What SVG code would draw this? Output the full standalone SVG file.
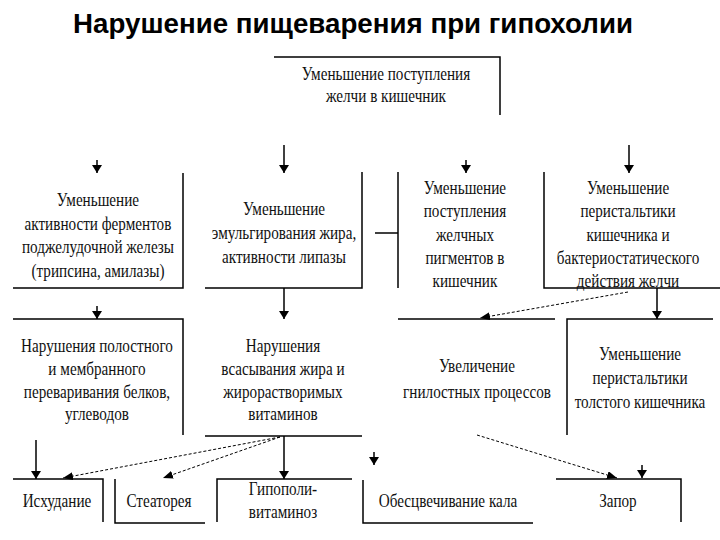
<svg xmlns="http://www.w3.org/2000/svg" width="720" height="540" viewBox="0 0 720 540">
<defs>
<marker id="ah" markerWidth="8" markerHeight="12" refX="8" refY="6" orient="auto" markerUnits="userSpaceOnUse" viewBox="0 0 8 12">
<path d="M0,1 L8,6 L0,11 z" fill="#000"/>
</marker>
<marker id="ahs" markerWidth="10" markerHeight="8" refX="10" refY="4" orient="auto" markerUnits="userSpaceOnUse" viewBox="0 0 10 8">
<path d="M0,0 L10,4 L0,8 z" fill="#000"/>
</marker>
</defs>
<style>
.b{fill:none;stroke:#000;stroke-width:1.5}
.c{fill:none;stroke:#000;stroke-width:1.5;marker-end:url(#ah)}
.d{fill:none;stroke:#000;stroke-width:1;stroke-dasharray:3,2;marker-end:url(#ahs)}
.t{font-family:'Liberation Serif','Times New Roman','DejaVu Serif',serif;font-size:18px;fill:#111;text-anchor:middle}
.h{font-family:'Liberation Sans',Arial,sans-serif;font-size:28px;font-weight:bold;fill:#000}
</style>
<rect width="720" height="540" fill="#fff"/>
<text class="h" x="73" y="33" textLength="560" lengthAdjust="spacingAndGlyphs">Нарушение пищеварения при гипохолии</text>

<g id="connectors">
<line class="c" x1="97" y1="160" x2="97" y2="173"/>
<line class="c" x1="284" y1="145" x2="284" y2="173"/>
<line class="c" x1="466" y1="160" x2="466" y2="173"/>
<line class="c" x1="629" y1="145" x2="629" y2="173"/>
<line class="b" x1="375" y1="233" x2="398" y2="233"/>
<line class="c" x1="97" y1="306" x2="97" y2="319"/>
<line class="c" x1="284" y1="288" x2="284" y2="319"/>
<line class="d" x1="628" y1="292" x2="480" y2="318"/>
<line class="c" x1="657" y1="288" x2="657" y2="319"/>
<line class="c" x1="36" y1="440" x2="36" y2="479"/>
<line class="d" x1="280" y1="437" x2="63" y2="478"/>
<line class="d" x1="280" y1="437" x2="163" y2="478"/>
<line class="c" x1="284" y1="436" x2="284" y2="479"/>
<line class="c" x1="374" y1="452" x2="374" y2="465"/>
<line class="d" x1="477" y1="435" x2="617" y2="478"/>
<line class="c" x1="642" y1="465" x2="642" y2="478"/>
</g>

<g id="n0">
<path class="b" d="M274,57 H500 V115"/>
<text class="t" transform="scale(0.844,1)" x="457.3" y="80">Уменьшение поступления</text>
<text class="t" transform="scale(0.844,1)" x="457.3" y="102">желчи в кишечник</text>
</g>

<g id="n1">
<path class="b" d="M183,173 V288 H13"/>
<text class="t" transform="scale(0.844,1)" x="116.1" y="206">Уменьшение</text>
<text class="t" transform="scale(0.844,1)" x="116.1" y="230">активности ферментов</text>
<text class="t" transform="scale(0.844,1)" x="116.1" y="253">поджелудочной железы</text>
<text class="t" transform="scale(0.844,1)" x="116.1" y="277">(трипсина, амилазы)</text>
</g>

<g id="n2">
<path class="b" d="M362,172 V288 H205"/>
<text class="t" transform="scale(0.844,1)" x="336.5" y="215">Уменьшение</text>
<text class="t" transform="scale(0.844,1)" x="336.5" y="239">эмульгирования жира,</text>
<text class="t" transform="scale(0.844,1)" x="336.5" y="263">активности липазы</text>
</g>

<g id="n3">
<path class="b" d="M398,172 V288"/>
<text class="t" transform="scale(0.844,1)" x="550.9" y="194">Уменьшение</text>
<text class="t" transform="scale(0.844,1)" x="550.9" y="217">поступления</text>
<text class="t" transform="scale(0.844,1)" x="550.9" y="241">желчных</text>
<text class="t" transform="scale(0.844,1)" x="550.9" y="264">пигментов в</text>
<text class="t" transform="scale(0.844,1)" x="550.9" y="287">кишечник</text>
</g>

<g id="n4">
<path class="b" d="M544,172 V288 H720"/>
<text class="t" transform="scale(0.844,1)" x="744.1" y="194">Уменьшение</text>
<text class="t" transform="scale(0.844,1)" x="744.1" y="217">перистальтики</text>
<text class="t" transform="scale(0.844,1)" x="744.1" y="241">кишечника и</text>
<text class="t" transform="scale(0.844,1)" x="744.1" y="264">бактериостатического</text>
<text class="t" transform="scale(0.844,1)" x="744.1" y="287">действия желчи</text>
</g>

<g id="n5">
<path class="b" d="M13,319 H183 V435"/>
<text class="t" transform="scale(0.844,1)" x="114.9" y="352">Нарушения полостного</text>
<text class="t" transform="scale(0.844,1)" x="114.9" y="375">и мембранного</text>
<text class="t" transform="scale(0.844,1)" x="114.9" y="398">переваривания белков,</text>
<text class="t" transform="scale(0.844,1)" x="114.9" y="420">углеводов</text>
</g>

<g id="n6">
<path class="b" d="M205,436 H362"/>
<text class="t" transform="scale(0.844,1)" x="335.3" y="352">Нарушения</text>
<text class="t" transform="scale(0.844,1)" x="335.3" y="375">всасывания  жира и</text>
<text class="t" transform="scale(0.844,1)" x="335.3" y="398">жирорастворимых</text>
<text class="t" transform="scale(0.844,1)" x="335.3" y="420">витаминов</text>
</g>

<g id="n7">
<path class="b" d="M398,319 H555"/>
<text class="t" transform="scale(0.844,1)" x="565.2" y="372">Увеличение</text>
<text class="t" transform="scale(0.844,1)" x="565.2" y="398">гнилостных процессов</text>
</g>

<g id="n8">
<path class="b" d="M567,435 V319 H713"/>
<text class="t" transform="scale(0.844,1)" x="758.3" y="360">Уменьшение</text>
<text class="t" transform="scale(0.844,1)" x="758.3" y="384">перистальтики</text>
<text class="t" transform="scale(0.844,1)" x="758.3" y="408">толстого кишечника</text>
</g>

<g id="n9">
<path class="b" d="M13,479 H103 V522"/>
<text class="t" transform="scale(0.844,1)" x="67.5" y="507">Исхудание</text>
</g>

<g id="n10">
<path class="b" d="M115,479 V523 H205"/>
<text class="t" transform="scale(0.844,1)" x="188.4" y="507">Стеаторея</text>
</g>

<g id="n11">
<path class="b" d="M352,479 H217 V522"/>
<text class="t" transform="scale(0.844,1)" x="335.3" y="495">Гипополи-</text>
<text class="t" transform="scale(0.844,1)" x="335.3" y="518">витаминоз</text>
</g>

<g id="n12">
<path class="b" d="M363,480 V523 H533"/>
<text class="t" transform="scale(0.844,1)" x="530.8" y="507">Обесцвечивание кала</text>
</g>

<g id="n13">
<path class="b" d="M556,479 H681 V522"/>
<text class="t" transform="scale(0.844,1)" x="732.2" y="507">Запор</text>
</g>
</svg>
